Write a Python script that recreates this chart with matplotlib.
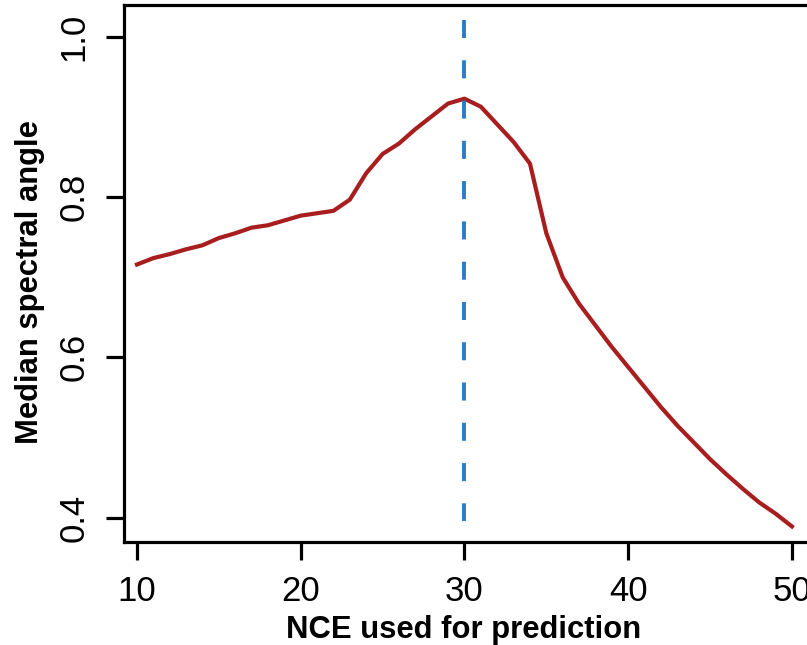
import matplotlib as mpl
mpl.use('Agg')
import matplotlib.pyplot as plt

plt.rcParams['font.family'] = ['Liberation Sans', 'DejaVu Sans']
plt.rcParams['lines.scale_dashes'] = False

# NCE values and median spectral angle
nce = list(range(10, 51))
median_sa = [0.716, 0.724, 0.729, 0.735, 0.740, 0.749, 0.755, 0.762, 0.765, 0.771,
             0.777, 0.780, 0.783, 0.797, 0.830, 0.854, 0.867, 0.885, 0.901, 0.917,
             0.923, 0.913, 0.891, 0.869, 0.842, 0.755, 0.700, 0.667, 0.640, 0.613,
             0.588, 0.563, 0.538, 0.515, 0.494, 0.473, 0.454, 0.436, 0.419, 0.405,
             0.389]
best_nce = 30
vline_span = [1.021, 0.396]

xticks = [10, 20, 30, 40, 50]
yticks = [0.4, 0.6, 0.8, 1.0]
ytick_labels = ['0.4', '0.6', '0.8', '1.0']

fig = plt.figure(figsize=(8.07, 6.45), dpi=100)
ax = fig.add_axes([0.1535, 0.1602, 0.8603, 0.8321])

ax.plot(nce, median_sa, color='#a81e1e', lw=3.0, solid_joinstyle='round')
ax.plot([best_nce, best_nce], vline_span, color='#2c7bc6', lw=2.8,
        dashes=(13, 16))

ax.set_xlim(9.2, 51.6)
ax.set_ylim(0.37, 1.04)
ax.set_xticks(xticks)
ax.set_yticks(yticks)
ax.set_yticklabels(ytick_labels)

for s in ax.spines.values():
    s.set_linewidth(2.3)
ax.tick_params(axis='both', direction='out', length=13, width=2.3, labelsize=25)
ax.tick_params(axis='x', pad=11)
ax.tick_params(axis='y', pad=11, labelrotation=90)
for lab in ax.get_yticklabels():
    lab.set_verticalalignment('center')

fig.text(464 / 807, 7 / 645, 'NCE used for prediction', fontsize=22.3,
         fontweight='bold', ha='center', va='baseline')
fig.text(30 / 807, 0.5628, 'Median spectral angle', fontsize=22.3,
         fontweight='bold', ha='center', va='center', rotation=90)

plt.savefig('out.png', dpi=100)
